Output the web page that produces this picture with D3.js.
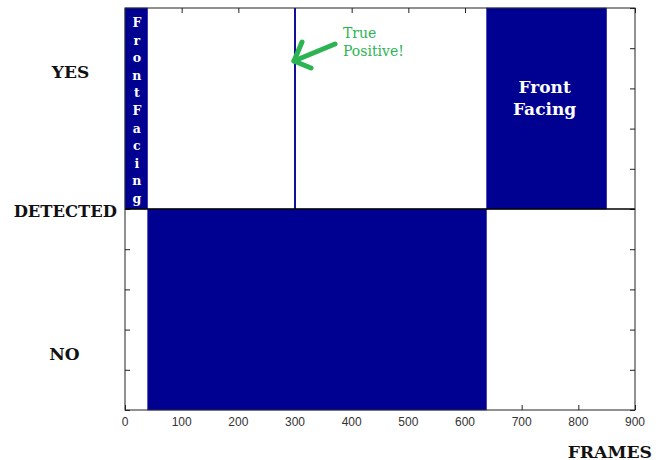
<!DOCTYPE html>
<html>
<head>
<meta charset="utf-8">
<script src="https://cdnjs.cloudflare.com/ajax/libs/d3/7.8.5/d3.min.js"></script>
<style>
  html, body { margin: 0; padding: 0; background: #fff; }
  svg { display: block; }
</style>
</head>
<body>
<svg id="chart" width="665" height="460"></svg>
<script>
// ---- data ----
const segStart = [0, 40, 638];
const segEnd   = [40, 638, 850];
const segState = ["YES", "NO", "YES"];
const truePositiveFrame = 300;
const xTicks = [0, 100, 200, 300, 400, 500, 600, 700, 800, 900];
const yTicks = [0, 0.1, 0.2, 0.3, 0.4, 0.5, 0.6, 0.7, 0.8, 0.9, 1];
const yLabels = ["YES", "DETECTED", "NO"];
const yLabelPos = [0.84, 0.5, 0.14];
const segText = ["FrontFacing", "", "Front\nFacing"];

// ---- layout ----
const svg = d3.select("#chart");
const pLeft = 125, pRight = 635, pTop = 8, pBottom = 410;
const x = d3.scaleLinear().domain([0, 900]).range([pLeft, pRight]);
const y = d3.scaleLinear().domain([0, 1]).range([pBottom, pTop]);
const navy = "#000091";
const tickLen = 5;

// inward ticks (drawn below bars)
const g = svg.append("g");
g.append("g").attr("transform", `translate(0,${pBottom})`)
  .call(d3.axisBottom(x).tickValues(xTicks).tickSizeInner(-tickLen).tickSizeOuter(0).tickFormat(""))
  .call(a => a.select(".domain").remove());
g.append("g").attr("transform", `translate(0,${pTop})`)
  .call(d3.axisTop(x).tickValues(xTicks).tickSizeInner(-tickLen).tickSizeOuter(0).tickFormat(""))
  .call(a => a.select(".domain").remove());
g.append("g").attr("transform", `translate(${pLeft},0)`)
  .call(d3.axisLeft(y).tickValues(yTicks).tickSizeInner(-tickLen).tickSizeOuter(0).tickFormat(""))
  .call(a => a.select(".domain").remove());
g.append("g").attr("transform", `translate(${pRight},0)`)
  .call(d3.axisRight(y).tickValues(yTicks).tickSizeInner(-tickLen).tickSizeOuter(0).tickFormat(""))
  .call(a => a.select(".domain").remove());
g.selectAll(".tick line").attr("stroke", "#222");

// bars
const segs = segStart.map((s, i) => ({ s, e: segEnd[i], st: segState[i], t: segText[i] }));
svg.append("g").selectAll("rect").data(segs).join("rect")
  .attr("x", d => x(d.s))
  .attr("width", d => x(d.e) - x(d.s))
  .attr("y", d => d.st === "YES" ? y(1) : y(0.5))
  .attr("height", d => y(0) - y(0.5))
  .attr("fill", navy)
  .attr("stroke", "#2a2aa8").attr("stroke-width", 0.6);

// true positive line
svg.append("line")
  .attr("x1", x(truePositiveFrame)).attr("x2", x(truePositiveFrame))
  .attr("y1", y(1)).attr("y2", y(0.5))
  .attr("stroke", "#10109a").attr("stroke-width", 2);

// mid line
svg.append("line")
  .attr("x1", pLeft).attr("x2", pRight)
  .attr("y1", y(0.5)).attr("y2", y(0.5))
  .attr("stroke", "#000").attr("stroke-width", 1.4);

// frame
svg.append("rect")
  .attr("x", pLeft).attr("y", pTop)
  .attr("width", pRight - pLeft).attr("height", pBottom - pTop)
  .attr("fill", "none").attr("stroke", "#222").attr("stroke-width", 1);

// bar text
const serif = "'DejaVu Serif', serif";
const s0 = segs[0];
const letters = s0.t.split("");
svg.append("g").selectAll("text").data(letters).join("text")
  .attr("x", (x(s0.s) + x(s0.e)) / 2 + 0.5)
  .attr("y", (d, i) => 27 + i * 17.6)
  .attr("text-anchor", "middle")
  .attr("font-family", serif).attr("font-weight", "bold").attr("font-size", 12.5)
  .attr("fill", "#fff")
  .text(d => d);

const s2 = segs[2];
const lines = s2.t.split("\n");
svg.append("g").selectAll("text").data(lines).join("text")
  .attr("x", (x(s2.s) + x(s2.e)) / 2 - 2)
  .attr("y", (d, i) => 93 + i * 22)
  .attr("text-anchor", "middle")
  .attr("font-family", serif).attr("font-weight", "bold").attr("font-size", 17)
  .attr("fill", "#fff")
  .text(d => d);

// x tick labels
svg.append("g").selectAll("text").data(xTicks).join("text")
  .attr("x", d => x(d))
  .attr("y", pBottom + 16)
  .attr("text-anchor", "middle")
  .attr("font-family", "'Liberation Sans', Arial, sans-serif")
  .attr("font-size", 12)
  .attr("fill", "#333")
  .text(d => d);

// y category labels
svg.append("g").selectAll("text").data(yLabels).join("text")
  .attr("x", (d, i) => i === 1 ? 117 : (i === 0 ? 70.5 : 64.5))
  .attr("y", (d, i) => y(yLabelPos[i]) + 6 + (i === 1 ? 2 : 0))
  .attr("text-anchor", (d, i) => i === 1 ? "end" : "middle")
  .attr("font-family", serif).attr("font-weight", "bold")
  .attr("font-size", (d, i) => i === 1 ? 16.4 : 17)
  .attr("fill", "#111")
  .text(d => d);

// x axis title
svg.append("text")
  .attr("x", 652).attr("y", 457.5)
  .attr("text-anchor", "end")
  .attr("font-family", serif).attr("font-weight", "bold").attr("font-size", 17.2)
  .attr("fill", "#111")
  .text("FRAMES");

// annotation
const green = "#2cb452";
const tipX = x(truePositiveFrame) - 1, tipY = 61;
const arrow = svg.append("g").attr("stroke", green).attr("stroke-width", 5)
  .attr("stroke-linecap", "round").attr("fill", "none");
arrow.append("path").attr("d", `M${tipX + 41},${tipY - 17} L${tipX},${tipY}`);
arrow.append("path").attr("d", `M${tipX + 8},${tipY - 19} L${tipX},${tipY} L${tipX + 17},${tipY + 7}`)
  .attr("stroke-linejoin", "round");
svg.append("g").selectAll("text").data(["True", "Positive!"]).join("text")
  .attr("x", 343)
  .attr("y", (d, i) => 38 + i * 18)
  .attr("font-family", serif).attr("font-size", 14)
  .attr("fill", green)
  .text(d => d);
</script>
</body>
</html>
